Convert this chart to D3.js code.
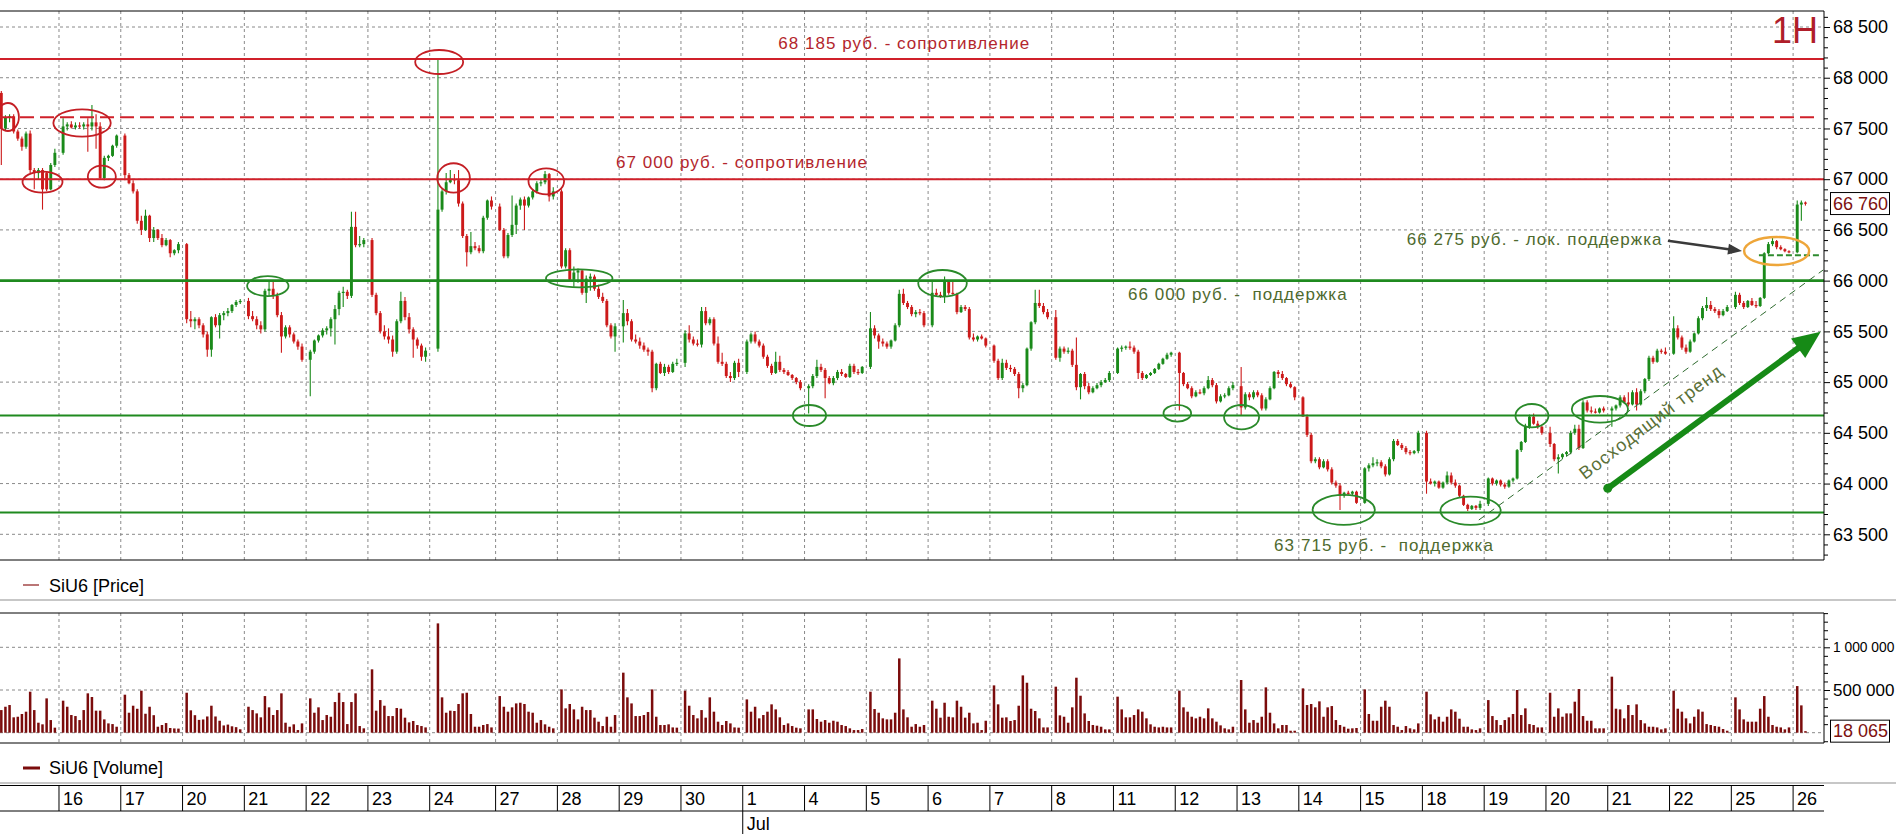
<!DOCTYPE html>
<html><head><meta charset="utf-8">
<script src="https://cdn.jsdelivr.net/npm/d3@7"></script>
<style>
html,body{margin:0;padding:0;background:#fff;overflow:hidden}
svg{display:block;font-family:"Liberation Sans",Arial,sans-serif}
</style></head><body>
<svg id="c" width="1896" height="834"></svg>
<script>
// ---------------- DATA ----------------
const dayLabels = ["15","16","17","20","21","22","23","24","27","28","29","30","1","4","5","6","7","8","11","12","13","14","15","18","19","20","21","22","25","26"];
const dayCandles = [14,14,14,14,14,14,14,14,14,14,14,14,14,14,14,14,14,14,14,14,14,14,14,14,14,14,14,14,14,3];
const daySlots   = [15,15,15,15,15,15,15,16,15,15,15,15,15,15,15,15,15,15,15,15,15,15,15,15,15,15,15,15,15,15];
const dayFirstSlot=[1,1,1,1,1,1,1,2,1,1,1,1,1,1,1,1,1,1,1,1,1,1,1,1,1,1,1,1,1,1];
const monthMarks = [{day:12, label:"Jul"}];

const open = [
67850,67500,67610,67620,67470,67400,67320,67450,67090,67060,67090,67060,66900,67140,
67260,67520,67540,67510,67530,67520,67540,67520,67560,67520,67010,67210,67230,67330,
67430,67040,66960,66880,66590,66500,66640,66420,66500,66420,66350,66400,66270,66300,
66360,65620,65600,65620,65560,65470,65320,65640,65560,65660,65680,65700,65760,65790,
65800,65650,65620,65560,65520,65900,65920,65850,65660,65450,65540,65470,65400,65350,
65220,65300,65410,65460,65510,65530,65620,65720,65880,65890,65850,66530,66350,66360,
66400,65860,65680,65500,65450,65420,65300,65600,65800,65640,65520,65420,65360,65250,
65330,66700,66880,66970,67000,66990,66760,66440,66280,66340,66320,66290,66620,66790,
66730,66500,66240,66450,66550,66740,66800,66740,66820,66880,66960,66970,67050,66830,
66880,66140,66300,66010,66080,66100,65880,66020,66040,65920,65840,65800,65560,65450,
65550,65680,65600,65420,65400,65360,65320,65300,64940,65180,65090,65150,65100,65180,
65190,65480,65420,65380,65370,65700,65580,65620,65380,65200,65180,65060,65040,65190,
65100,65400,65470,65400,65360,65250,65160,65090,65200,65120,65100,65070,65040,65000,
64940,64960,65060,65150,65120,65040,64990,65040,65100,65080,65050,65160,65100,65090,
65150,65530,65460,65400,65380,65350,65410,65560,65870,65780,65740,65670,65690,65680,
65560,65880,65860,65840,65990,65880,65870,65690,65740,65720,65440,65420,65450,65430,
65360,65210,65040,65190,65140,65130,65080,64940,64970,65330,65590,65780,65750,65690,
65640,65240,65330,65300,65310,65170,64950,65080,64960,64900,64940,64970,65000,65020,
65090,65330,65340,65350,65340,65300,65090,65040,65070,65090,65130,65180,65230,65270,
65290,65090,64980,64940,64860,64900,64890,64940,65020,64970,64810,64860,64870,64940,
64960,64750,64880,64850,64900,64870,64740,64830,64940,65100,65080,65040,64980,64950,
64850,64660,64480,64220,64240,64160,64220,64140,64010,63980,63880,63910,63900,63920,
63810,64150,64180,64200,64210,64170,64090,64240,64420,64380,64350,64310,64300,64320,
64500,64020,64000,64020,63960,64010,64080,64010,63980,63880,63790,63750,63780,63760,
63800,64050,64000,64030,63990,63970,64030,64050,64330,64410,64560,64660,64590,64560,
64500,64390,64240,64260,64290,64310,64500,64540,64350,64800,64720,64710,64700,64740,
64720,64740,64770,64850,64800,64780,64900,64780,64910,65030,65240,65200,65310,65300,
65280,65530,65440,65340,65300,65400,65480,65630,65730,65760,65720,65700,65660,65700,
65740,65860,65780,65740,65800,65760,65750,65830,66270,66360,66390,66330,66310,66290,
66280,66750,66770];
const high = [
67870,67630,67640,67640,67490,67420,67470,67480,67110,67110,67110,67080,67160,67300,
67600,67560,67570,67560,67560,67560,67600,67730,67640,67560,67230,67240,67340,67440,
67450,67060,66990,66900,66640,66700,66650,66530,66510,66460,66420,66410,66310,66380,
66370,65700,65640,65640,65580,65500,65650,65670,65680,65700,65730,65770,65810,65820,
65830,65700,65650,65600,65920,66000,65990,65880,65690,65560,65560,65490,65420,65380,
65320,65420,65470,65530,65550,65640,65760,65900,65940,65910,66680,66680,66440,66420,
66420,65880,65700,65560,65530,65460,65620,65890,65840,65680,65540,65440,65380,65340,
68185,66900,67060,67090,67050,67090,66780,66460,66480,66380,66350,66640,66800,66830,
66760,66520,66470,66840,66760,66820,66830,66830,66900,66980,67000,67080,67060,66920,
66900,66320,66320,66140,66120,66110,66050,66070,66060,65960,65880,65820,65580,65580,
65810,65720,65620,65470,65440,65390,65340,65320,65190,65200,65180,65170,65200,65230,
65510,65560,65450,65420,65740,65740,65640,65640,65450,65290,65200,65100,65210,65230,
65420,65490,65500,65420,65380,65270,65180,65300,65260,65140,65120,65080,65050,65020,
64980,65080,65220,65180,65140,65060,65060,65120,65130,65090,65180,65180,65130,65160,
65690,65560,65480,65430,65400,65420,65580,65910,65920,65800,65760,65710,65720,65700,
66000,65920,65890,66040,66000,65990,65880,65760,65760,65740,65480,65460,65470,65440,
65370,65230,65230,65220,65170,65150,65100,64990,65340,65600,65910,65910,65780,65720,
65710,65350,65350,65340,65330,65440,65090,65100,64990,64960,64990,65020,65040,65110,
65340,65360,65360,65400,65360,65320,65110,65080,65100,65140,65190,65240,65290,65300,
65300,65100,65000,64960,64920,64930,64960,65060,65040,64990,64880,64890,64960,65000,
65150,64900,64900,64920,64920,64890,64850,64960,65110,65120,65110,65050,65000,64960,
64860,64680,64500,64260,64260,64240,64240,64160,64030,64000,63920,63930,63930,63930,
64160,64200,64260,64240,64230,64190,64260,64440,64440,64400,64370,64330,64330,64520,
64520,64050,64030,64030,64020,64120,64110,64040,63990,63890,63800,63790,63790,63830,
64060,64060,64040,64040,64010,64040,64060,64340,64420,64590,64680,64690,64620,64570,
64560,64400,64290,64300,64320,64520,64580,64580,64820,64820,64760,64740,64750,64760,
64760,64780,64870,64870,64900,64920,64940,64930,65040,65260,65260,65330,65330,65340,
65650,65560,65460,65370,65420,65490,65650,65750,65840,65800,65740,65720,65720,65760,
65890,65880,65800,65810,65830,65800,65840,66280,66380,66430,66400,66350,66320,66300,
66790,66790,66780];
const low = [
67140,67480,67560,67450,67380,67280,67300,67060,66900,67000,66700,66880,66890,67120,
67240,67480,67500,67490,67500,67490,67270,67480,67300,67000,66990,67180,67220,67310,
66990,66950,66860,66560,66450,66490,66380,66380,66400,66330,66340,66230,66250,66270,
65580,65540,65520,65530,65440,65250,65250,65540,65430,65610,65650,65680,65740,65770,
65620,65600,65520,65480,65500,65850,65820,65640,65290,65430,65440,65380,65320,65200,
64860,65280,65390,65440,65470,65450,65370,65660,65740,65820,65830,66330,66330,66330,
65840,65660,65480,65420,65380,65250,65280,65580,65610,65480,65240,65330,65210,65200,
65300,66680,66850,66960,66950,66730,66420,66140,66260,66300,66270,66270,66600,66700,
66490,66220,66220,66430,66460,66700,66500,66720,66800,66860,66930,66950,66780,66800,
66120,66120,66000,65940,65980,65860,65780,65900,65900,65820,65780,65540,65430,65300,
65390,65560,65400,65380,65330,65300,65260,64900,64920,65080,65060,65080,65090,65160,
65150,65390,65360,65350,65340,65560,65560,65360,65180,65160,65040,65000,65020,65050,
65080,65380,65380,65340,65230,65140,65070,65080,65100,65080,65060,65020,64980,64920,
64690,64940,65040,65100,64840,64980,64970,65020,65060,65040,65040,65080,65070,65080,
65130,65430,65330,65350,65330,65330,65400,65540,65760,65720,65650,65640,65660,65540,
65540,65840,65830,65780,65860,65860,65670,65680,65700,65420,65400,65400,65420,65340,
65190,65020,65020,65120,65100,65060,64840,64900,64960,65310,65570,65730,65670,65620,
65220,65200,65280,65280,65150,64920,64830,64930,64880,64890,64930,64950,64990,65000,
65080,65300,65320,65320,65280,65030,65020,65030,65060,65080,65120,65170,65220,65250,
64720,64960,64930,64840,64850,64880,64870,64930,64950,64790,64800,64840,64860,64920,
64670,64730,64820,64830,64850,64720,64720,64820,64930,65040,65020,64960,64940,64820,
64690,64460,64200,64200,64140,64150,64120,63990,63960,63740,63860,63890,63880,63800,
63800,64120,64160,64170,64150,64070,64080,64220,64370,64330,64290,64280,64290,64300,
63900,63990,63970,63950,63950,63990,63990,63960,63860,63780,63730,63740,63740,63740,
63780,63980,63980,63970,63950,63960,64010,64040,64310,64400,64540,64580,64540,64480,
64360,64220,64100,64240,64270,64290,64480,64330,64340,64700,64690,64690,64690,64700,
64560,64720,64750,64790,64760,64770,64720,64770,64890,65010,65180,65190,65280,65270,
65270,65420,65320,65280,65290,65390,65470,65610,65700,65700,65680,65630,65650,65690,
65720,65760,65720,65730,65750,65730,65740,65820,66260,66340,66310,66300,66280,66270,
66270,66590,66740];
const close = [
67500,67610,67620,67470,67400,67320,67450,67090,67060,67090,66900,66900,67140,67260,
67520,67540,67510,67530,67520,67540,67520,67560,67520,67010,67210,67230,67330,67430,
67040,66960,66880,66590,66500,66640,66420,66500,66420,66350,66400,66270,66300,66360,
65620,65600,65620,65560,65470,65320,65640,65560,65660,65680,65700,65760,65790,65800,
65650,65620,65560,65520,65900,65920,65850,65660,65450,65540,65470,65400,65350,65220,
65300,65410,65460,65510,65530,65620,65720,65880,65890,65850,66530,66350,66360,66400,
65860,65680,65500,65450,65420,65300,65600,65800,65640,65520,65420,65360,65250,65310,
66700,66880,66970,67000,66990,66760,66440,66280,66340,66320,66290,66620,66790,66730,
66500,66240,66450,66550,66740,66800,66740,66820,66880,66960,66970,67050,66830,66880,
66140,66300,66010,66080,66100,65880,66020,66040,65920,65840,65800,65560,65450,65550,
65680,65600,65420,65400,65360,65320,65300,64940,65180,65090,65150,65100,65180,65190,
65480,65420,65380,65370,65700,65580,65620,65380,65200,65180,65060,65040,65190,65100,
65400,65470,65400,65360,65250,65160,65090,65200,65120,65100,65070,65040,65000,64940,
64960,65060,65150,65120,65040,64990,65040,65100,65080,65050,65160,65100,65090,65150,
65530,65460,65400,65380,65350,65410,65560,65870,65780,65740,65670,65690,65680,65560,
65880,65860,65840,65990,65880,65870,65690,65740,65720,65440,65420,65450,65430,65360,
65210,65040,65190,65140,65130,65080,64940,64970,65330,65590,65780,65750,65690,65640,
65240,65330,65300,65310,65170,64950,65080,64960,64900,64940,64970,65000,65020,65090,
65330,65340,65350,65340,65300,65090,65040,65070,65090,65130,65180,65230,65270,65290,
65090,64980,64940,64860,64900,64890,64940,65020,64970,64810,64860,64870,64940,64970,
64750,64880,64850,64900,64870,64740,64830,64940,65100,65080,65040,64980,64950,64850,
64660,64480,64220,64240,64160,64220,64140,64010,63980,63880,63910,63900,63920,63810,
64150,64180,64200,64210,64170,64090,64240,64420,64380,64350,64310,64300,64320,64500,
64020,64000,64020,63960,64010,64080,64010,63980,63880,63790,63750,63780,63760,63800,
64050,64000,64030,63990,63970,64030,64050,64330,64410,64560,64660,64590,64560,64500,
64390,64240,64260,64290,64310,64500,64540,64350,64800,64720,64710,64700,64740,64720,
64740,64770,64850,64800,64780,64900,64780,64910,65030,65240,65200,65310,65300,65280,
65530,65440,65340,65300,65400,65480,65630,65730,65760,65720,65700,65660,65700,65740,
65860,65780,65740,65800,65760,65750,65830,66270,66360,66390,66330,66310,66290,66280,
66750,66770,66760];
const volume = [
265e3,304e3,324e3,180e3,187e3,219e3,246e3,480e3,265e3,117e3,98e3,402e3,148e3,59e3,
375e3,304e3,207e3,195e3,148e3,265e3,461e3,418e3,258e3,258e3,156e3,109e3,101e3,70e3,
445e3,234e3,316e3,280e3,492e3,222e3,304e3,205e3,70e3,90e3,113e3,55e3,50e3,48e3,
468e3,262e3,205e3,150e3,155e3,190e3,316e3,190e3,140e3,85e3,95e3,75e3,65e3,40e3,
304e3,265e3,226e3,180e3,429e3,297e3,207e3,265e3,461e3,117e3,70e3,98e3,31e3,109e3,
402e3,234e3,297e3,148e3,207e3,187e3,359e3,468e3,359e3,101e3,359e3,461e3,78e3,51e3,
742e3,258e3,382e3,316e3,195e3,195e3,289e3,281e3,176e3,121e3,137e3,90e3,78e3,62e3,
1280e3,414e3,234e3,258e3,254e3,336e3,461e3,468e3,219e3,70e3,70e3,90e3,101e3,62e3,
429e3,304e3,246e3,297e3,343e3,351e3,336e3,246e3,234e3,117e3,148e3,98e3,70e3,51e3,
507e3,285e3,336e3,273e3,156e3,304e3,265e3,265e3,176e3,129e3,78e3,187e3,70e3,207e3,
703e3,414e3,343e3,195e3,195e3,207e3,242e3,507e3,187e3,90e3,90e3,98e3,62e3,59e3,
492e3,316e3,207e3,168e3,265e3,176e3,414e3,246e3,129e3,90e3,137e3,109e3,62e3,59e3,
390e3,246e3,304e3,168e3,207e3,246e3,332e3,273e3,180e3,90e3,109e3,78e3,59e3,51e3,
273e3,273e3,160e3,129e3,148e3,117e3,140e3,129e3,90e3,78e3,51e3,31e3,31e3,43e3,
480e3,277e3,234e3,168e3,156e3,156e3,234e3,870e3,273e3,180e3,70e3,101e3,70e3,90e3,
375e3,281e3,176e3,351e3,187e3,180e3,375e3,304e3,176e3,234e3,109e3,117e3,31e3,140e3,
554e3,332e3,176e3,180e3,137e3,148e3,316e3,671e3,585e3,281e3,254e3,168e3,62e3,62e3,
539e3,203e3,187e3,117e3,297e3,644e3,433e3,226e3,137e3,90e3,82e3,70e3,39e3,39e3,
422e3,273e3,180e3,180e3,207e3,273e3,246e3,168e3,98e3,70e3,62e3,70e3,62e3,62e3,
492e3,297e3,246e3,187e3,168e3,187e3,168e3,285e3,168e3,129e3,86e3,51e3,39e3,70e3,
617e3,273e3,117e3,148e3,117e3,187e3,531e3,234e3,109e3,51e3,90e3,90e3,23e3,23e3,
519e3,324e3,336e3,297e3,367e3,187e3,297e3,312e3,148e3,90e3,70e3,47e3,51e3,55e3,
507e3,219e3,140e3,140e3,304e3,375e3,304e3,90e3,70e3,31e3,78e3,51e3,39e3,109e3,
480e3,215e3,156e3,187e3,129e3,187e3,273e3,246e3,164e3,70e3,70e3,39e3,31e3,51e3,
382e3,195e3,148e3,90e3,148e3,180e3,219e3,500e3,207e3,285e3,101e3,90e3,62e3,62e3,
468e3,187e3,285e3,187e3,226e3,226e3,363e3,511e3,195e3,140e3,140e3,51e3,51e3,51e3,
656e3,281e3,273e3,168e3,324e3,207e3,332e3,148e3,109e3,70e3,70e3,62e3,39e3,51e3,
492e3,281e3,246e3,168e3,109e3,187e3,273e3,246e3,101e3,90e3,78e3,70e3,43e3,23e3,
414e3,273e3,156e3,129e3,129e3,129e3,281e3,429e3,187e3,90e3,70e3,62e3,39e3,62e3,
546e3,320e3,18065];

const priceTicks = [63500,64000,64500,65000,65500,66000,66500,67000,67500,68000,68500];
const volumeTicks = [500000,1000000];
const lastPrice = 66760;
const lastVolume = 18065;
const timeframe = "1H";
const seriesName = "SiU6";

// horizontal levels & annotations (data space: price, time-slot units)
const levels = [
  {price:68185, kind:"res"}, {price:67610, kind:"res", dashed:true}, {price:67000, kind:"res"},
  {price:66000, kind:"sup", wide:true}, {price:64670, kind:"sup"}, {price:63715, kind:"sup"}
];
const levelLabels = [
  {text:"68 185 руб. - сопротивление", u:189.6, price:68283, kind:"res"},
  {text:"67 000 руб. - сопротивление", u:150.2, price:67110, kind:"res"},
  {text:"66 000 руб. -  поддержка", u:274.5, price:65809, kind:"sup"},
  {text:"63 715 руб. -  поддержка", u:310.0, price:63335, kind:"sup"},
  {text:"66 275 руб. - лок. поддержка", u:342.2, price:66351, kind:"sup"}
];
const marks = [
  {u:2.6,price:67613,rx:11,ry:14,kind:"res"},{u:11.0,price:66972,rx:20,ry:10.5,kind:"res"},
  {u:20.6,price:67554,rx:28.7,ry:13.7,kind:"res"},{u:25.4,price:67025,rx:14,ry:11,kind:"res"},
  {u:65.7,price:65947,rx:20.7,ry:10,kind:"sup"},{u:107.3,price:68155,rx:24,ry:12,kind:"res"},
  {u:110.8,price:67012,rx:16.3,ry:14.7,kind:"res"},{u:133.3,price:66979,rx:17.8,ry:13,kind:"res"},
  {u:141.3,price:66023,rx:33.3,ry:9,kind:"sup"},{u:229.5,price:65974,rx:24.3,ry:13.3,kind:"sup"},
  {u:197.2,price:64671,rx:16.6,ry:10.5,kind:"sup"},{u:286.5,price:64693,rx:13.8,ry:8.3,kind:"sup"},
  {u:302.1,price:64654,rx:17.5,ry:12.2,kind:"sup"},{u:326.9,price:63740,rx:31.1,ry:15,kind:"sup"},
  {u:357.7,price:63732,rx:30.1,ry:14.2,kind:"sup"},{u:372.6,price:64669,rx:16.5,ry:11.7,kind:"sup"},
  {u:389.1,price:64732,rx:28.1,ry:13.3,kind:"sup"},{u:432.0,price:66292,rx:32.5,ry:14,kind:"loc"}
];
const localSupport = {price:66250, u0:427.7, u1:443.0};
const trendLine = {u0:359.7, p0:63641, u1:443.3, p1:66105};
const trendArrow = {u0:391.0, p0:63953, u1:442.7, p1:65497};
const pointerArrow = {u0:405.6, p0:66394, u1:423.6, p1:66292};
const trendText = {text:"Восходящий тренд", u:401.5, price:64610, angle:-37.5};

// ---------------- LAYOUT ----------------
const W = 1896, H = 834;
const plotR = 1824;
const pTop = 11, pBot = 560, vTop = 613, vBot = 743;
const RED = "#d0202a", GREEN = "#1f8a1f", REDTXT = "#b3262d", GRNTXT = "#4e6a2e";
const CUP = "#1a8a1a", CDN = "#cc1a1a", VOLC = "#7b0c0c";

const svg = d3.select("#c");
const xU = d3.scaleLinear().domain([0.68, 443.5]).range([0, plotR]);
const yP = d3.scaleLinear().domain([63500, 68500]).range([534.3, 27]);
const yV = d3.scaleLinear().domain([0, 1000000]).range([732.7, 647.3]);
const fmt = d3.formatLocale({decimal:".", thousands:" ", grouping:[3], currency:["",""]}).format(",");

// positions of days and candles in slot units
const dayStart = []; const candleU = [];
let acc = 0;
dayLabels.forEach((d,i)=>{
  dayStart.push(acc);
  for (let j=0;j<dayCandles[i];j++){ candleU.push(acc + dayFirstSlot[i] + j); }
  acc += daySlots[i];
});
const candles = open.map((o,i)=>({o, h:high[i], l:low[i], c:close[i], v:volume[i], u:candleU[i]}));

const defs = svg.append("defs");
defs.append("clipPath").attr("id","cp").append("rect").attr("x",0).attr("y",pTop).attr("width",plotR).attr("height",pBot-pTop);
defs.append("clipPath").attr("id","cv").append("rect").attr("x",0).attr("y",vTop).attr("width",plotR).attr("height",vBot-vTop);

// ---- price panel grid
const gP = svg.append("g").attr("clip-path","url(#cp)");
gP.selectAll("line.hg").data(priceTicks).join("line")
  .attr("x1",0).attr("x2",plotR).attr("y1",d=>yP(d)).attr("y2",d=>yP(d))
  .attr("stroke","#8a8a8a").attr("stroke-dasharray","3,3").attr("stroke-width",1);
gP.selectAll("line.vg").data(dayStart).join("line")
  .attr("x1",d=>xU(d)).attr("x2",d=>xU(d)).attr("y1",pTop).attr("y2",pBot)
  .attr("stroke","#8a8a8a").attr("stroke-dasharray","3,3").attr("stroke-width",1);

// ---- candles
const gc = gP.append("g");
gc.selectAll("line.wick").data(candles).join("line")
  .attr("x1",d=>xU(d.u)).attr("x2",d=>xU(d.u))
  .attr("y1",d=>yP(Math.max(d.h,d.o,d.c))).attr("y2",d=>yP(Math.min(d.l,d.o,d.c)))
  .attr("stroke",d=>d.c>=d.o?CUP:CDN).attr("stroke-width",1.1);
gc.selectAll("rect.body").data(candles).join("rect")
  .attr("x",d=>xU(d.u)-1.45).attr("width",2.9)
  .attr("y",d=>yP(Math.max(d.o,d.c)))
  .attr("height",d=>Math.max(1.2, yP(Math.min(d.o,d.c))-yP(Math.max(d.o,d.c))))
  .attr("fill",d=>d.c>=d.o?CUP:CDN);

// ---- level lines
gP.selectAll("line.lvl").data(levels).join("line")
  .attr("x1",0).attr("x2",d=>d.dashed?plotR-6:plotR)
  .attr("y1",d=>yP(d.price)).attr("y2",d=>yP(d.price))
  .attr("stroke",d=>d.kind==="res"?RED:GREEN)
  .attr("stroke-width",d=>d.wide?2.6:2)
  .attr("stroke-dasharray",d=>d.dashed?"14,6":null);
gP.append("line")
  .attr("x1",xU(localSupport.u0)).attr("x2",xU(localSupport.u1))
  .attr("y1",yP(localSupport.price)).attr("y2",yP(localSupport.price))
  .attr("stroke","#2e8b2e").attr("stroke-width",2).attr("stroke-dasharray","6,3");
gP.append("line")
  .attr("x1",xU(trendLine.u0)).attr("y1",yP(trendLine.p0))
  .attr("x2",xU(trendLine.u1)).attr("y2",yP(trendLine.p1))
  .attr("stroke","#2f6b2f").attr("stroke-width",1).attr("stroke-dasharray","7,5");

// ---- ellipses
gP.selectAll("ellipse").data(marks).join("ellipse")
  .attr("cx",d=>xU(d.u)).attr("cy",d=>yP(d.price)).attr("rx",d=>d.rx).attr("ry",d=>d.ry)
  .attr("fill","none").attr("stroke-width",d=>d.kind==="loc"?2.4:1.8)
  .attr("stroke",d=>d.kind==="res"?"#c41e24":d.kind==="sup"?"#2a8a2a":"#eea63a");

// ---- labels
gP.selectAll("text.lbl").data(levelLabels).join("text")
  .attr("x",d=>xU(d.u)).attr("y",d=>yP(d.price))
  .attr("fill",d=>d.kind==="res"?REDTXT:GRNTXT)
  .attr("font-size",17).attr("letter-spacing",1.05).style("white-space","pre")
  .text(d=>d.text);
gP.append("text")
  .attr("transform",`translate(${xU(trendText.u)},${yP(trendText.price)}) rotate(${trendText.angle})`)
  .attr("text-anchor","middle").attr("dy","0.35em")
  .attr("fill","#5a7038").attr("font-size",18).attr("letter-spacing",1.1)
  .text(trendText.text);

// ---- arrows
function head(x1,y1,x2,y2,len,wid){
  const a=Math.atan2(y2-y1,x2-x1), c=Math.cos(a), s=Math.sin(a);
  const bx=x2-len*c, by=y2-len*s;
  return [[x2,y2],[bx-wid/2*s,by+wid/2*c],[bx+wid/2*s,by-wid/2*c]];
}
{
  const x1=xU(trendArrow.u0), y1=yP(trendArrow.p0), x2=xU(trendArrow.u1), y2=yP(trendArrow.p1);
  const a=Math.atan2(y2-y1,x2-x1);
  gP.append("line").attr("x1",x1).attr("y1",y1).attr("x2",x2-20*Math.cos(a)).attr("y2",y2-20*Math.sin(a))
    .attr("stroke","#168a16").attr("stroke-width",6);
  gP.append("circle").attr("cx",x1).attr("cy",y1).attr("r",4.5).attr("fill","#168a16");
  gP.append("polygon").attr("points",head(x1,y1,x2,y2,28,24).join(" ")).attr("fill","#168a16");
}
{
  const x1=xU(pointerArrow.u0), y1=yP(pointerArrow.p0), x2=xU(pointerArrow.u1), y2=yP(pointerArrow.p1);
  const a=Math.atan2(y2-y1,x2-x1);
  gP.append("line").attr("x1",x1).attr("y1",y1).attr("x2",x2-10*Math.cos(a)).attr("y2",y2-10*Math.sin(a))
    .attr("stroke","#3a3a3a").attr("stroke-width",2.5);
  gP.append("polygon").attr("points",head(x1,y1,x2,y2,14,11).join(" ")).attr("fill","#3a3a3a");
}

// ---- price frame & axis
svg.append("line").attr("x1",0).attr("x2",plotR).attr("y1",pTop).attr("y2",pTop).attr("stroke","#000");
svg.append("line").attr("x1",0).attr("x2",plotR).attr("y1",pBot).attr("y2",pBot).attr("stroke","#000");
svg.append("line").attr("x1",plotR).attr("x2",plotR).attr("y1",pTop).attr("y2",pBot).attr("stroke","#000");
const minorP = d3.range(63300, 68700, 100).filter(v=>v%500!==0);
svg.append("g").attr("transform",`translate(${plotR},0)`)
  .call(d3.axisRight(yP).tickValues(minorP).tickSize(4).tickFormat(""))
  .call(g=>g.select(".domain").remove());
svg.append("g").attr("transform",`translate(${plotR},0)`)
  .call(d3.axisRight(yP).tickValues(priceTicks).tickSize(6).tickPadding(3).tickFormat(fmt))
  .call(g=>g.select(".domain").remove())
  .call(g=>g.selectAll("text").attr("font-size",18).attr("fill","#000").attr("font-family","Liberation Sans, Arial, sans-serif"));
svg.selectAll(".tick line").attr("stroke","#000");

// last value boxes
function valBox(y, txt){
  svg.append("rect").attr("x",1830.5).attr("y",y-11).attr("width",59).attr("height",22)
    .attr("fill","#fff").attr("stroke","#000").attr("stroke-width",1);
  svg.append("text").attr("x",1833).attr("y",y).attr("dy","0.35em").attr("font-size",18)
    .attr("fill","#7d1010").text(txt);
}
valBox(yP(lastPrice), fmt(lastPrice));

svg.append("text").attr("x",1818).attr("y",43).attr("text-anchor","end").attr("font-size",36)
  .attr("fill","#b01e2a").text(timeframe);

// ---- legend price
svg.append("line").attr("x1",23).attr("x2",39).attr("y1",585).attr("y2",585).attr("stroke","#8b1a1a").attr("stroke-width",1.2);
svg.append("text").attr("x",49).attr("y",591.5).attr("font-size",18).attr("fill","#000").text(`${seriesName} [Price]`);
svg.append("line").attr("x1",0).attr("x2",W).attr("y1",600).attr("y2",600).attr("stroke","#b4b4b4").attr("stroke-width",1.5);

// ---- volume panel
const gV = svg.append("g").attr("clip-path","url(#cv)");
gV.selectAll("line.hg").data(volumeTicks.concat([0])).join("line")
  .attr("x1",0).attr("x2",plotR).attr("y1",d=>yV(d)).attr("y2",d=>yV(d))
  .attr("stroke","#8a8a8a").attr("stroke-dasharray","3,3");
gV.selectAll("line.vg").data(dayStart).join("line")
  .attr("x1",d=>xU(d)).attr("x2",d=>xU(d)).attr("y1",vTop).attr("y2",vBot)
  .attr("stroke","#8a8a8a").attr("stroke-dasharray","3,3");
gV.selectAll("rect.vol").data(candles).join("rect")
  .attr("x",d=>xU(d.u)-1.25).attr("width",2.5)
  .attr("y",d=>yV(d.v)).attr("height",d=>Math.max(0.8,yV(0)-yV(d.v)))
  .attr("fill",VOLC);
svg.append("line").attr("x1",0).attr("x2",plotR).attr("y1",vTop).attr("y2",vTop).attr("stroke","#000");
svg.append("line").attr("x1",0).attr("x2",plotR).attr("y1",vBot).attr("y2",vBot).attr("stroke","#000");
svg.append("line").attr("x1",plotR).attr("x2",plotR).attr("y1",vTop).attr("y2",vBot).attr("stroke","#000");
const minorV = d3.range(-100000, 1400001, 100000).filter(v=>v%500000!==0);
svg.append("g").attr("transform",`translate(${plotR},0)`)
  .call(d3.axisRight(yV).tickValues(minorV).tickSize(4).tickFormat(""))
  .call(g=>g.select(".domain").remove());
svg.append("g").attr("transform",`translate(${plotR},0)`)
  .call(d3.axisRight(yV).tickValues(volumeTicks).tickSize(6).tickPadding(3).tickFormat(fmt))
  .call(g=>g.select(".domain").remove())
  .call(g=>g.selectAll("text").attr("font-size",d=>d>=1000000?13.8:17).attr("fill","#000")
     .attr("font-family","Liberation Sans, Arial, sans-serif"));
svg.selectAll(".tick line").attr("stroke","#000");
valBox(yV(lastVolume), fmt(lastVolume));

// ---- legend volume
svg.append("line").attr("x1",23).attr("x2",40).attr("y1",768).attr("y2",768).attr("stroke","#7b0c0c").attr("stroke-width",3);
svg.append("text").attr("x",49).attr("y",774).attr("font-size",18).attr("fill","#000").text(`${seriesName} [Volume]`);
svg.append("line").attr("x1",0).attr("x2",W).attr("y1",783).attr("y2",783).attr("stroke","#b4b4b4").attr("stroke-width",1.5);

// ---- date axis
const axTop = 785.5, axBot = 811;
svg.append("line").attr("x1",0).attr("x2",plotR).attr("y1",axTop).attr("y2",axTop).attr("stroke","#000");
svg.append("line").attr("x1",0).attr("x2",plotR).attr("y1",axBot).attr("y2",axBot).attr("stroke","#000");
const dayIdx = d3.range(dayLabels.length).filter(i=>xU(dayStart[i])>0);
svg.selectAll("line.dsep").data(dayIdx).join("line")
  .attr("x1",i=>xU(dayStart[i])).attr("x2",i=>xU(dayStart[i])).attr("y1",axTop).attr("y2",axBot).attr("stroke","#000");
svg.selectAll("text.dlab").data(dayIdx).join("text")
  .attr("x",i=>xU(dayStart[i])+4).attr("y",805).attr("font-size",18).attr("fill","#000")
  .text(i=>dayLabels[i]);
monthMarks.forEach(m=>{
  const x = xU(dayStart[m.day]);
  svg.append("line").attr("x1",x).attr("x2",x).attr("y1",axBot).attr("y2",H).attr("stroke","#000");
  svg.append("text").attr("x",x+4).attr("y",830).attr("font-size",18).attr("fill","#000").text(m.label);
});
</script>
</body></html>
